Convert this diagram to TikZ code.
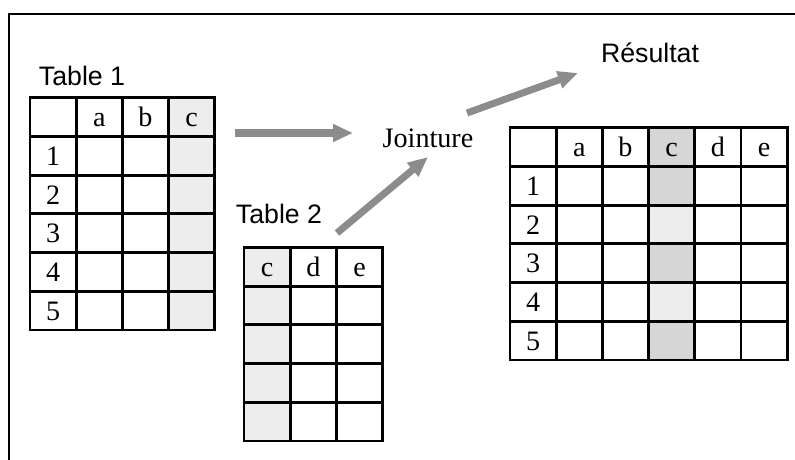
\documentclass[tikz,border=0pt]{standalone}
\usepackage{fontspec}
\setmainfont{Liberation Serif}
\newfontfamily\labelsans{Liberation Sans}
\usetikzlibrary{arrows.meta}

\tikzset{
  cell/.style={font=\fontsize{20}{24}\selectfont, inner sep=0pt, text height=13.6pt, text depth=0pt},
  ruling/.style={line width=2.1pt},
  lbl/.style={font=\labelsans\fontsize{19}{23}\selectfont, inner sep=0pt},
  flow/.style={draw=black!45, line width=5pt, -{Triangle[length=0.5cm,width=0.42cm]}},
  pale/.style={fill=black!7},
  shade/.style={fill=black!16}
}

\begin{document}
\begin{tikzpicture}
\useasboundingbox (0,0) rectangle (19.875,11.475);
\draw[line width=1.4pt] (0.225,-0.1) -- (0.225,11.125) -- (20.000,11.125);
% Table 1
\begin{scope}[shift={(0.750,3.225)}]
\fill[pale] (3.465,0) rectangle (4.620,5.808);
\draw[ruling] (1.155,0) -- (1.155,5.808);
\draw[ruling] (2.310,0) -- (2.310,5.808);
\draw[ruling] (3.465,0) -- (3.465,5.808);
\draw[ruling] (0,0.968) -- (4.620,0.968);
\draw[ruling] (0,1.936) -- (4.620,1.936);
\draw[ruling] (0,2.904) -- (4.620,2.904);
\draw[ruling] (0,3.872) -- (4.620,3.872);
\draw[ruling] (0,4.840) -- (4.620,4.840);
\draw[ruling] (0,0) rectangle (4.620,5.808);
\node[cell] (t1a) at (1.733,5.324) {a};
\node[cell] (t1b) at (2.888,5.324) {b};
\node[cell] (t1c) at (4.043,5.324) {c};
\node[cell] (t1r1) at (0.578,4.356) {1};
\node[cell] (t1r2) at (0.578,3.388) {2};
\node[cell] (t1r3) at (0.578,2.420) {3};
\node[cell] (t1r4) at (0.578,1.452) {4};
\node[cell] (t1r5) at (0.578,0.484) {5};
\end{scope}
% Table 2
\begin{scope}[shift={(6.100,0.450)}]
\fill[pale] (0,0) rectangle (1.155,4.840);
\draw[ruling] (1.155,0) -- (1.155,4.840);
\draw[ruling] (2.310,0) -- (2.310,4.840);
\draw[ruling] (0,0.968) -- (3.465,0.968);
\draw[ruling] (0,1.936) -- (3.465,1.936);
\draw[ruling] (0,2.904) -- (3.465,2.904);
\draw[ruling] (0,3.872) -- (3.465,3.872);
\draw[ruling] (0,0) rectangle (3.465,4.840);
\node[cell] (t2c) at (0.578,4.356) {c};
\node[cell] (t2d) at (1.733,4.356) {d};
\node[cell] (t2e) at (2.888,4.356) {e};
\end{scope}
% Resultat
\begin{scope}[shift={(12.750,2.475)}]
\fill[shade] (3.465,4.840) rectangle (4.620,5.808);
\fill[shade] (3.465,3.872) rectangle (4.620,4.840);
\fill[pale] (3.465,2.904) rectangle (4.620,3.872);
\fill[shade] (3.465,1.936) rectangle (4.620,2.904);
\fill[pale] (3.465,0.968) rectangle (4.620,1.936);
\fill[shade] (3.465,0) rectangle (4.620,0.968);
\draw[ruling] (1.155,0) -- (1.155,5.808);
\draw[ruling] (2.310,0) -- (2.310,5.808);
\draw[ruling] (3.465,0) -- (3.465,5.808);
\draw[ruling] (4.620,0) -- (4.620,5.808);
\draw[ruling] (5.775,0) -- (5.775,5.808);
\draw[ruling] (0,0.968) -- (6.930,0.968);
\draw[ruling] (0,1.936) -- (6.930,1.936);
\draw[ruling] (0,2.904) -- (6.930,2.904);
\draw[ruling] (0,3.872) -- (6.930,3.872);
\draw[ruling] (0,4.840) -- (6.930,4.840);
\draw[ruling] (0,0) rectangle (6.930,5.808);
\node[cell] (rsa) at (1.733,5.324) {a};
\node[cell] (rsb) at (2.888,5.324) {b};
\node[cell] (rsc) at (4.043,5.324) {c};
\node[cell] (rsd) at (5.198,5.324) {d};
\node[cell] (rse) at (6.353,5.324) {e};
\node[cell] (rsr1) at (0.578,4.356) {1};
\node[cell] (rsr2) at (0.578,3.388) {2};
\node[cell] (rsr3) at (0.578,2.420) {3};
\node[cell] (rsr4) at (0.578,1.452) {4};
\node[cell] (rsr5) at (0.578,0.484) {5};
\end{scope}
% labels
\node[lbl] (tab1) at (2.050,9.575) {Table 1};
\node[lbl] (tab2) at (6.975,6.125) {Table 2};
\node[lbl] (result) at (16.250,10.150) {Résultat};
\node[font=\fontsize{20}{24}\selectfont, inner sep=0pt] (join) at (10.700,8.025) {Jointure};
% arrows
\coordinate (a1from) at (5.875,8.150);
\coordinate (a1to) at (8.825,8.150);
\coordinate (a2from) at (8.425,5.650);
\coordinate (a2to) at (10.700,7.550);
\coordinate (a3from) at (11.675,8.650);
\coordinate (a3to) at (14.450,9.650);
\draw[flow] (a1from) -- (a1to);
\draw[flow] (a2from) -- (a2to);
\draw[flow] (a3from) -- (a3to);
\end{tikzpicture}
\end{document}
